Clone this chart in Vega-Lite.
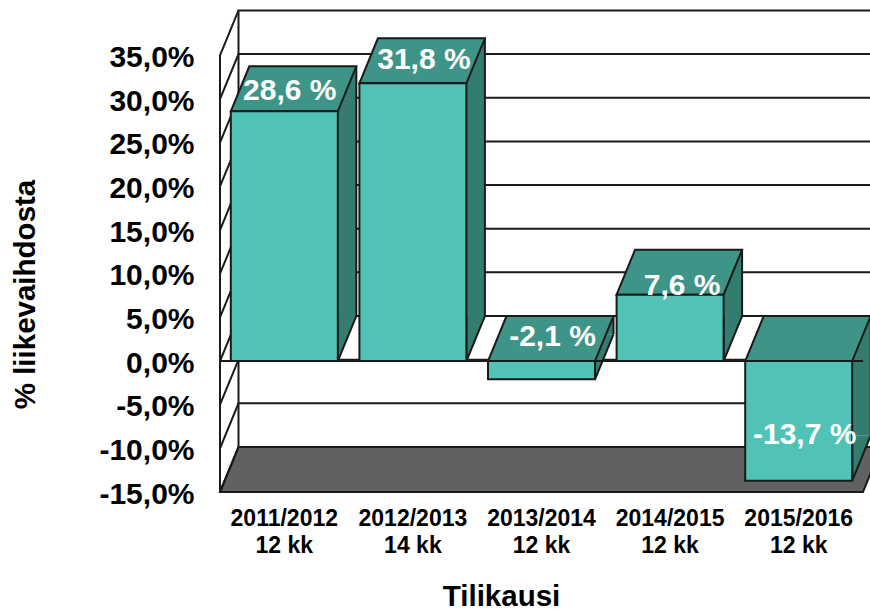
{
"$schema":"https://vega.github.io/schema/vega-lite/v6.json",
"width":650,"height":482,
"autosize":{"type":"none"},
"padding":{"left":220,"top":10,"right":0,"bottom":119},
"background":"white",
"view":{"stroke":null},
"config":{"font":"Liberation Sans","view":{"stroke":null}},
"datasets":{
"bars":[
{"period":"2011/2012|12 kk","value":28.6,"top":28.6,"bottom":0,"label":"28,6 %"},
{"period":"2012/2013|14 kk","value":31.8,"top":31.8,"bottom":0,"label":"31,8 %"},
{"period":"2013/2014|12 kk","value":-2.1,"top":0,"bottom":-2.1,"label":"-2,1 %"},
{"period":"2014/2015|12 kk","value":7.6,"top":7.6,"bottom":0,"label":"7,6 %"},
{"period":"2015/2016|12 kk","value":-13.7,"top":0,"bottom":-13.7,"label":"-13,7 %"}],
"ticks":[{"tick":-15},{"tick":-10},{"tick":-5},{"tick":0},{"tick":5},{"tick":10},{"tick":15},{"tick":20},{"tick":25},{"tick":30},{"tick":35}],
"base":[{"level":-15}],
"zero":[{"level":0}]
},
"layer":[
{"data":{"name":"base"},
 "mark":{"type":"point","shape":"M-325,0L-306.5,-45L336.5,-45L318,0Z","size":4,"filled":true,"fill":"#616161","stroke":"#1a1a1a","strokeWidth":2,"opacity":1},
 "encoding":{"y":{"field":"level","type":"quantitative","scale":{"domain":[-15,40.2],"nice":false,"zero":false},
   "axis":{"values":[-15,-10,-5,0,5,10,15,20,25,30,35],"labelExpr":"replace(replace(format(datum.value,'.1f'),'.',','),'−','-')+'%'","labelFont":"Liberation Sans","labelFontWeight":"bold","labelFontSize":30,"labelColor":"#000000","labelPadding":26,"labelOffset":2,"ticks":false,"domain":false,"grid":false,"title":"% liikevaihdosta","titleFont":"Liberation Sans","titleFontWeight":"bold","titleFontSize":29.5,"titleColor":"#000000","titleX":-180,"titleY":284,"titleAlign":"center","titleAngle":-90,"labelOverlap":false}}}},
{"data":{"name":"ticks"},
 "mark":{"type":"point","shape":"M-325,0L-306.5,-45L325,-45","size":4,"filled":false,"stroke":"#1a1a1a","strokeWidth":2,"opacity":1},
 "encoding":{"y":{"field":"tick","type":"quantitative"}}},
{"data":{"name":"base"},
 "mark":{"type":"point","shape":"M-325,0L-325,-437M-306.5,-45L-306.5,-482","size":4,"filled":false,"stroke":"#1a1a1a","strokeWidth":2,"opacity":1},
 "encoding":{"y":{"field":"level","type":"quantitative"}}},
{"data":{"name":"bars"},
 "mark":{"type":"bar","width":18.5,"xOffset":62.75,"yOffset":-45,"y2Offset":-45,"fill":"#357C70"},
 "encoding":{"x":{"field":"period","type":"nominal","sort":null,"scale":{"type":"band","range":[0,643],"paddingInner":0.168,"paddingOuter":0.084},"axis":{"labelExpr":"split(datum.label,'|')","labelFont":"Liberation Sans","labelFontWeight":"bold","labelFontSize":23,"labelColor":"#000000","labelLineHeight":27,"labelAngle":0,"labelPadding":15,"ticks":false,"domain":false,"grid":false,"title":"Tilikausi","titleFont":"Liberation Sans","titleFontWeight":"bold","titleFontSize":29.5,"titleColor":"#000000","titleX":281,"titleY":104,"titleBaseline":"middle"}},
   "y":{"field":"top","type":"quantitative"},"y2":{"field":"bottom"}}},
{"data":{"name":"bars"},
 "mark":{"type":"rule","stroke":"#1a1a1a","strokeWidth":2,"xOffset":18.5,"yOffset":-45,"y2Offset":-45},
 "encoding":{"x":{"field":"period","type":"nominal","bandPosition":1},
   "y":{"field":"top","type":"quantitative"},"y2":{"field":"bottom"}}},
{"data":{"name":"bars"},
 "mark":{"type":"point","shape":"M0,-45L0,0L18.5,-45","size":4,"filled":true,"fill":"#357C70","stroke":"#1a1a1a","strokeWidth":2,"opacity":1},
 "encoding":{"x":{"field":"period","type":"nominal","bandPosition":1},
   "y":{"field":"bottom","type":"quantitative"}}},
{"data":{"name":"bars"},
 "mark":{"type":"point","shape":"M0,0L18.5,-45L125.5,-45L107,0Z","size":4,"filled":true,"fill":"#3E9486","stroke":"#1a1a1a","strokeWidth":2,"opacity":1},
 "encoding":{"x":{"field":"period","type":"nominal","bandPosition":0},
   "y":{"field":"top","type":"quantitative"}}},
{"data":{"name":"bars"},
 "mark":{"type":"bar","fill":"#50C3B6","stroke":"#1a1a1a","strokeWidth":2},
 "encoding":{"x":{"field":"period","type":"nominal"},
   "y":{"field":"top","type":"quantitative"},"y2":{"field":"bottom"}}},
{"data":{"name":"zero"},
 "mark":{"type":"point","shape":"M-325,0L318,0","size":4,"filled":false,"stroke":"#1a1a1a","strokeWidth":2,"opacity":1},
 "encoding":{"y":{"field":"level","type":"quantitative"}}},
{"data":{"name":"bars"},"transform":[{"filter":"datum.value==28.6"}],
 "mark":{"type":"text","font":"Liberation Sans","fontWeight":"bold","fontSize":30,"fill":"#ffffff","dx":5.5,"dy":-20},
 "encoding":{"x":{"field":"period","type":"nominal"},"y":{"field":"top","type":"quantitative"},"text":{"field":"label"}}},
{"data":{"name":"bars"},"transform":[{"filter":"datum.value==31.8"}],
 "mark":{"type":"text","font":"Liberation Sans","fontWeight":"bold","fontSize":30,"fill":"#ffffff","dx":11,"dy":-23},
 "encoding":{"x":{"field":"period","type":"nominal"},"y":{"field":"top","type":"quantitative"},"text":{"field":"label"}}},
{"data":{"name":"bars"},"transform":[{"filter":"datum.value==-2.1"}],
 "mark":{"type":"text","font":"Liberation Sans","fontWeight":"bold","fontSize":30,"fill":"#ffffff","dx":11,"dy":-24},
 "encoding":{"x":{"field":"period","type":"nominal"},"y":{"field":"top","type":"quantitative"},"text":{"field":"label"}}},
{"data":{"name":"bars"},"transform":[{"filter":"datum.value==7.6"}],
 "mark":{"type":"text","font":"Liberation Sans","fontWeight":"bold","fontSize":30,"fill":"#ffffff","dx":12,"dy":-9},
 "encoding":{"x":{"field":"period","type":"nominal"},"y":{"field":"top","type":"quantitative"},"text":{"field":"label"}}},
{"data":{"name":"bars"},"transform":[{"filter":"datum.value==-13.7"}],
 "mark":{"type":"text","font":"Liberation Sans","fontWeight":"bold","fontSize":30,"fill":"#ffffff","dx":6,"dy":-46},
 "encoding":{"x":{"field":"period","type":"nominal"},"y":{"field":"bottom","type":"quantitative"},"text":{"field":"label"}}}
]
}
